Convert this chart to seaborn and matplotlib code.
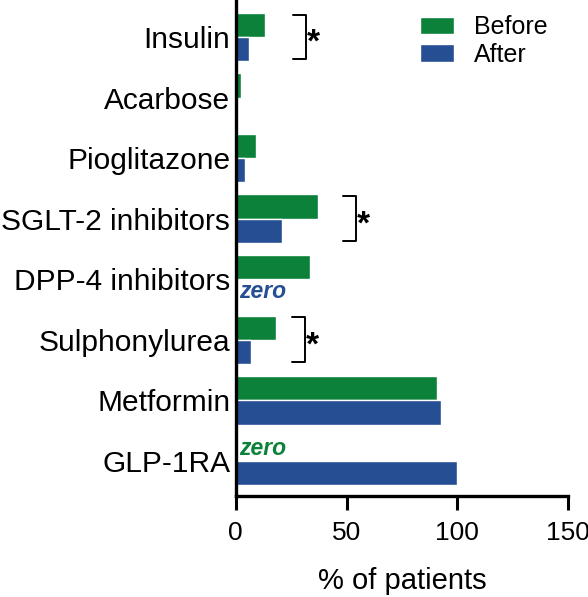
import numpy as np
import pandas as pd
import matplotlib
matplotlib.use("Agg")
import matplotlib.pyplot as plt
import seaborn as sns

# 数据
drugs = ["Insulin", "Acarbose", "Pioglitazone", "SGLT-2 inhibitors",
         "DPP-4 inhibitors", "Sulphonylurea", "Metformin", "GLP-1RA"]
before = [13, 2.5, 9, 37, 33.5, 18, 91, 0]
after = [6, 0, 4, 21, 0, 7, 92.7, 100]
groups = ["Before", "After"]
zero_labels = {"DPP-4 inhibitors": "After", "GLP-1RA": "Before"}
signif = ["Insulin", "SGLT-2 inhibitors", "Sulphonylurea"]
bracket_x = [31.6, 54.2, 31.2]

green = "#0b8139"
blue = "#264f93"

sns.set_style("ticks")
plt.rcParams['font.family'] = ['Liberation Sans', 'DejaVu Sans']
plt.rcParams['text.color'] = 'black'
plt.rcParams['axes.labelcolor'] = 'black'
plt.rcParams['xtick.color'] = 'black'
plt.rcParams['ytick.color'] = 'black'
plt.rcParams['axes.edgecolor'] = 'black'

data = pd.DataFrame({
    "drug": drugs * 2,
    "group": [groups[0]] * len(drugs) + [groups[1]] * len(drugs),
    "pct": before + after,
})

fig = plt.figure(figsize=(5.88, 5.97), dpi=100)
ax = fig.add_axes([0.401, 0.169, 0.565, 0.831])

sns.barplot(data=data, y="drug", x="pct", hue="group", order=drugs,
            hue_order=groups, palette=[green, blue], orient="h",
            width=0.8, saturation=1, ax=ax, legend=True)

ax.set_xlim(0, 150)
ax.set_xticks([0, 50, 100, 150])
ax.set_ylim(7.58, -0.61)
ax.set_ylabel("")
ax.set_xlabel("% of patients", fontsize=21, labelpad=16)
ax.tick_params(axis="x", labelsize=19, length=10, width=2.2, pad=8)
ax.tick_params(axis="y", labelsize=21.5, length=0, pad=4)
sns.despine(ax=ax)
for s in ["left", "bottom"]:
    ax.spines[s].set_linewidth(2.4)

# zero 标注
for d, g in zero_labels.items():
    i = drugs.index(d)
    off = -0.2 if g == "Before" else 0.2
    ax.text(1.5, i + off, "zero", color=green if g == "Before" else blue,
            fontsize=16.5, fontweight="bold", fontstyle="italic",
            va="center", ha="left")

# 显著性括号
for d, xr in zip(signif, bracket_x):
    i = drugs.index(d)
    xl = xr - 5.8
    ax.plot([xl, xr, xr, xl], [i - 0.37, i - 0.37, i + 0.37, i + 0.37],
            color="black", lw=1.4, clip_on=False)
    ax.text(xr + 0.6, i + 0.1, "*", fontsize=24, fontweight="bold",
            va="center", ha="left")

ax.legend(loc="upper left", bbox_to_anchor=(0.715, 0.975),
          bbox_transform=fig.transFigure, frameon=False, fontsize=18,
          handlelength=1.33, handleheight=0.68, handletextpad=0.8,
          labelspacing=0.15, borderaxespad=0, borderpad=0)

plt.savefig("out.png", dpi=100)
